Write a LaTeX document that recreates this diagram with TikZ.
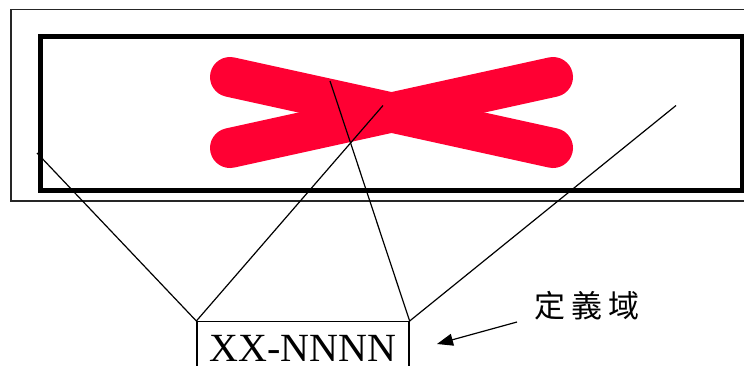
\documentclass[tikz,border=0pt]{standalone}
\usepackage{fontspec}
\setmainfont{Liberation Serif}
\newfontfamily\cjk{Noto Sans CJK TC}
\usetikzlibrary{arrows.meta}
\definecolor{crossred}{RGB}{255,0,51}

\begin{document}
\begin{tikzpicture}[x=1pt,y=-1pt,>={Triangle[length=16pt,width=12pt]}]

    \tikzstyle{window}=[draw=black!85,line width=1.3pt]
    \tikzstyle{border}=[draw=black,line width=5pt]
    \tikzstyle{cross}=[draw=crossred,line width=40pt,line cap=round]
    \tikzstyle{ray}=[black,line width=1.2pt]
    \tikzstyle{code}=[rectangle,draw,line width=1.3pt,minimum width=212pt,inner ysep=13.5pt,font=\fontsize{40}{42}\selectfont]

    \useasboundingbox (0,0) rectangle (744,365);

    \draw [window] (11,9.5) rectangle (770,201);   %outer window
    \draw [border] (40.5,36) rectangle (742,190);  %thick frame

    % red X
    \draw [cross] (230,77) -- (553,148);
    \draw [cross] (230,148) -- (553,77);

    \node [code, anchor=north] (xx) at (303,321) {XX-NNNN};
    \node (dom) at (587,306) {\cjk\fontsize{31}{31}\selectfont 定\hspace{6pt}義\hspace{6pt}域};

    \coordinate (a1) at (37,153);
    \coordinate (a2) at (383,105.5);
    \coordinate (a3) at (330,81);
    \coordinate (a4) at (676,105.5);
    \draw [ray] (a1) -- (xx.north west) -- (a2);
    \draw [ray] (a3) -- (xx.north east) -- (a4);

    \coordinate (tail) at (517,322);
    \coordinate (tip) at (437,344);
    \draw [ray,->] (tail) -- (tip);

\end{tikzpicture}
\end{document}
